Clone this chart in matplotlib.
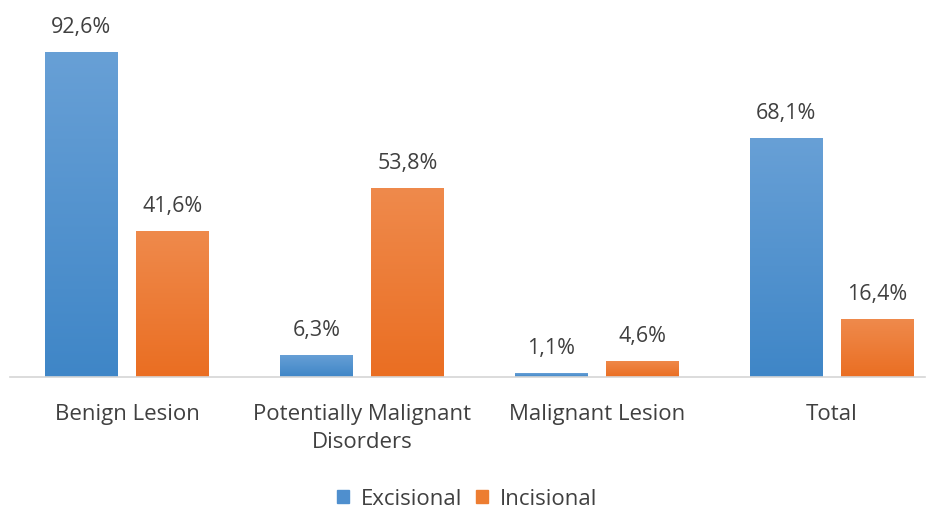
import numpy as np
import matplotlib.pyplot as plt
from matplotlib.patches import Patch
from matplotlib.colors import LinearSegmentedColormap

categories = ["Benign Lesion", "Potentially Malignant\nDisorders", "Malignant Lesion", "Total"]
excisional = [92.6, 6.3, 1.1, 68.1]
incisional = [41.6, 53.8, 4.6, 16.4]
series_names = ["Excisional", "Incisional"]

plt.rcParams['font.family'] = ['Open Sans', 'DejaVu Sans']
text_color = '#404040'

fig = plt.figure(figsize=(9.34, 5.10), dpi=100)
ax = fig.add_axes([10 / 934, 132 / 510, 915 / 934, 368 / 510])

x = np.arange(len(categories))
width = 0.31
offset = 0.194

series = [
    (excisional, -offset, '#4f8fce', '#68a0d6', '#3f86c7'),
    (incisional, offset, '#ed7d31', '#ef8a4c', '#ea6e22'),
]

for values, dx, base, top, bottom in series:
    bars = ax.bar(x + dx, values, width, color=base, zorder=2)
    cmap = LinearSegmentedColormap.from_list('grad', [bottom, top])
    grad = np.linspace(0, 1, 256).reshape(-1, 1)
    for bar, v in zip(bars, values):
        x0 = bar.get_x()
        im = ax.imshow(grad, cmap=cmap, origin='lower', aspect='auto',
                       extent=[x0, x0 + width, 0, v], zorder=3)
        im.set_clip_path(bar)
        ax.text(bar.get_x() + width / 2, v + 4.3, f"{v:.1f}%".replace('.', ','),
                ha='center', va='bottom', fontsize=15.5, color=text_color)

ax.set_xlim(-0.498, 3.396)
ax.set_ylim(0, 104.8)
ax.set_xticks(x)
ax.set_xticklabels(categories, fontsize=16, color=text_color, linespacing=1.4)
ax.tick_params(axis='x', length=0, pad=19)
ax.set_yticks([])
for side in ['top', 'right', 'left']:
    ax.spines[side].set_visible(False)
ax.spines['bottom'].set_color('#d6d6d6')
ax.spines['bottom'].set_linewidth(1.2)
ax.spines['bottom'].set_zorder(4)

handles = [Patch(color='#4f8fce', label=series_names[0]),
           Patch(color='#ed7d31', label=series_names[1])]
fig.legend(handles=handles, loc='center', bbox_to_anchor=(0.5, 10 / 510), ncol=2,
           frameon=False, fontsize=16, labelcolor=text_color,
           handlelength=0.55, handleheight=0.55, handletextpad=0.55, columnspacing=0.6)

fig.savefig('out.png', dpi=100)
